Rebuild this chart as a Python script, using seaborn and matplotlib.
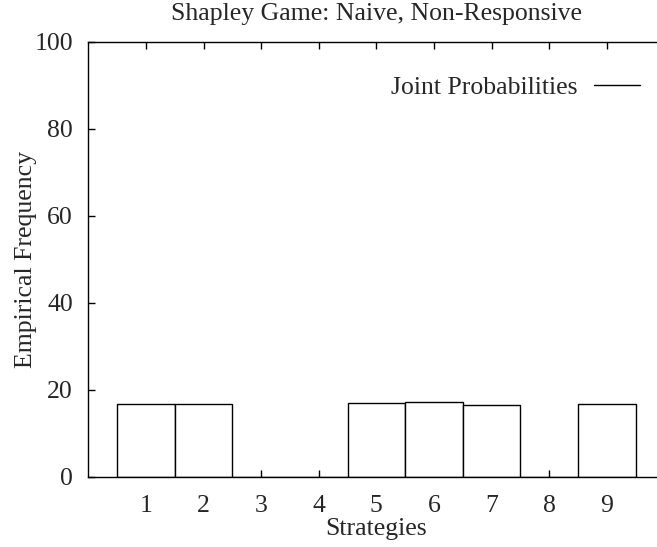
import matplotlib
matplotlib.use("Agg")
import matplotlib.pyplot as plt
from matplotlib.lines import Line2D
import seaborn as sns
import pandas as pd

strategies = [1, 2, 3, 4, 5, 6, 7, 8, 9]
frequency = [16.7, 16.7, 0.0, 0.0, 16.9, 17.1, 16.5, 0.0, 16.6]
tick_labels = ["1", "2", "3", "4", "5", "6", "7", "8", "9"]
y_ticks = [0, 20, 40, 60, 80, 100]

sns.set_style("ticks")
plt.rcParams["font.family"] = ["Liberation Serif", "DejaVu Serif"]
FS = 18.5
plt.rcParams["font.size"] = FS

df = pd.DataFrame({"Strategy": strategies, "Frequency": frequency})

W, H = 657, 547
fig = plt.figure(figsize=(W / 100, H / 100), dpi=100)
x0, x1 = 88.3, 88.3 + 10 * 57.6
y0, y1 = 476.5, 42.0
ax = fig.add_axes([x0 / W, 1 - y0 / H, (x1 - x0) / W, (y0 - y1) / H])

sns.barplot(data=df, x="Strategy", y="Frequency", native_scale=True, width=1.0,
            color="white", saturation=1, edgecolor="black", linewidth=1.0,
            errorbar=None, ax=ax)

ax.set_xlim(0, 10)
ax.set_ylim(0, 100)
ax.set_xticks(strategies)
ax.set_xticklabels(tick_labels)
ax.set_yticks(y_ticks)
ax.set_yticklabels([str(v) for v in y_ticks])
ax.tick_params(direction="in", length=5, width=1, top=True, right=True,
               labelsize=FS, color="black")
ax.tick_params(axis="x", pad=13)
ax.tick_params(axis="y", pad=11)
for s in ax.spines.values():
    s.set_visible(True)
    s.set_linewidth(1.0)
    s.set_color("black")

ax.set_xlabel("Strategies", fontsize=FS, labelpad=1)
ax.set_ylabel("Empirical Frequency", fontsize=FS, labelpad=-2)

fig.text(((x0 + x1) / 2) / W, 1 - 14 / H, "Shapley Game: Naive, Non-Responsive",
         ha="center", va="center", fontsize=FS)

handle = Line2D([], [], color="black", lw=1.0)
ax.legend(handles=[handle], labels=["Joint Probabilities"], loc="center right",
          bbox_to_anchor=(640 / W, 1 - 88 / H), bbox_transform=fig.transFigure,
          frameon=False, markerfirst=False, borderpad=0, borderaxespad=0,
          handlelength=1.8, handletextpad=0.62, fontsize=FS)

fig.savefig("out.png", dpi=100)
